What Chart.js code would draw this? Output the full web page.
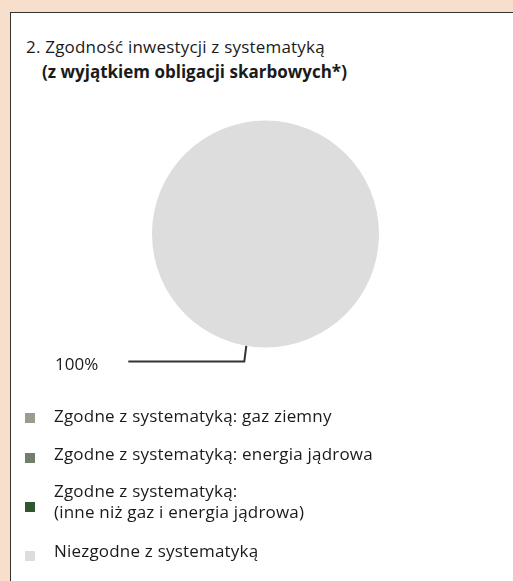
<!DOCTYPE html>
<html>
<head>
<meta charset="utf-8">
<script src="https://cdn.jsdelivr.net/npm/chart.js@4"></script>
<style>
  html, body { margin: 0; padding: 0; }
  body { width: 513px; height: 581px; background: #f8dfcc; position: relative; overflow: hidden;
         font-family: "Open Sans", "Noto Sans", sans-serif; color: #1a1a1a; }
  .panel { position: absolute; left: 10px; top: 12px; width: 600px; height: 700px;
           background: #fff; border: 1px solid #333; box-sizing: border-box; }
  .title { position: absolute; left: 26px; top: 34px; font-size: 17px; line-height: 25px; letter-spacing: 0.2px; }
  .title b { display: block; padding-left: 16px; font-weight: 700; letter-spacing: 0; }
  #chartBox { position: absolute; left: 0; top: 0; width: 513px; height: 581px; }
  .legend { position: absolute; left: 0; top: 0; font-size: 17px; letter-spacing: 0.2px; }
  .legend .box { position: absolute; left: 25px; width: 10px; height: 10px; }
  .legend .txt { position: absolute; left: 54px; line-height: 21px; white-space: nowrap; }
</style>
</head>
<body>
<div class="panel"></div>
<div class="title">2. Zgodność inwestycji z systematyką<b>(z wyjątkiem obligacji skarbowych*)</b></div>
<div id="chartBox"><canvas id="pieChart" width="513" height="581"></canvas></div>
<div class="legend" id="legend"></div>

<script>
// --- Data ---
const categories = [
    'Zgodne z systematyką: gaz ziemny',
    'Zgodne z systematyką: energia jądrowa',
    'Zgodne z systematyką:\n(inne niż gaz i energia jądrowa)',
    'Niezgodne z systematyką'
];
const values = [0, 0, 0, 100];
const colors = ['#9a9c8d', '#737d6c', '#2f5531', '#dddddd'];
const valueLabels = ['0%', '0%', '0%', '100%'];

// --- Leader line + label for the visible slice ---
const leaderPlugin = {
    id: 'leader',
    afterDatasetsDraw(chart) {
        const c = chart.ctx;
        const meta = chart.getDatasetMeta(0);
        meta.data.forEach((arc, i) => {
            if (!values[i]) return;
            const mid = (arc.startAngle + arc.endAngle) / 2 + 0.17;
            const x0 = arc.x + Math.cos(mid) * arc.outerRadius;
            const y0 = arc.y + Math.sin(mid) * arc.outerRadius;
            const elbowX = x0 - 2, elbowY = arc.y + arc.outerRadius + 14;
            const endX = elbowX - 116;
            c.save();
            c.strokeStyle = '#333';
            c.lineWidth = 2;
            c.beginPath();
            c.moveTo(x0, y0);
            c.lineTo(elbowX, elbowY);
            c.lineTo(endX, elbowY);
            c.stroke();
            c.fillStyle = '#1a1a1a';
            c.font = '17px "Open Sans", "Noto Sans", sans-serif';
            c.textAlign = 'right';
            c.textBaseline = 'middle';
            c.fillText(valueLabels[i], endX - 30, elbowY + 4);
            c.restore();
        });
    }
};

new Chart(document.getElementById('pieChart').getContext('2d'), {
    type: 'pie',
    data: {
        labels: categories,
        datasets: [{ data: values, backgroundColor: colors, borderWidth: 0 }]
    },
    options: {
        responsive: false,
        animation: false,
        layout: { padding: { left: 152, right: 134, top: 120.5, bottom: 233.5 } },
        plugins: { legend: { display: false }, tooltip: { enabled: false } }
    },
    plugins: [leaderPlugin]
});

// --- HTML legend built from the same arrays ---
// layout: text centre of first line, square centre
const textCenters = [416, 454, 491, 551];
const boxCenters = [418, 458, 507, 556];
const legendEl = document.getElementById('legend');
categories.forEach((name, i) => {
    const lines = name.split('\n');
    const box = document.createElement('div');
    box.className = 'box';
    box.style.background = colors[i];
    box.style.top = (boxCenters[i] - 5) + 'px';
    const txt = document.createElement('div');
    txt.className = 'txt';
    txt.style.top = (textCenters[i] - 11) + 'px';
    txt.innerHTML = lines.join('<br>');
    legendEl.appendChild(box);
    legendEl.appendChild(txt);
});
</script>
</body>
</html>
